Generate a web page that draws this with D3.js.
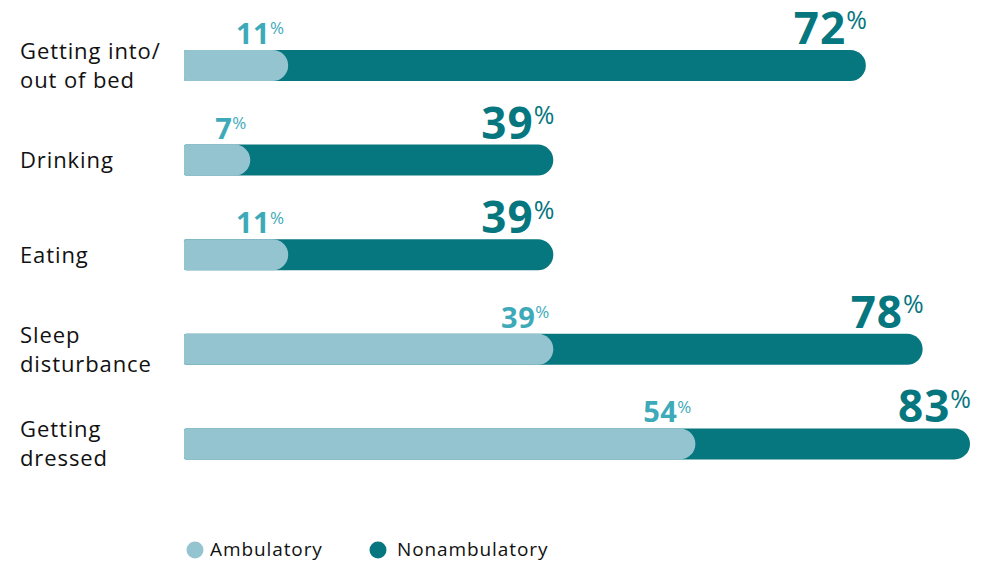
<!DOCTYPE html>
<meta charset="utf-8">
<script src="https://d3js.org/d3.v7.min.js"></script>
<style>
  body { margin: 0; background: #fff; }
  text { font-family: "Open Sans", sans-serif; }
</style>
<div id="chart"></div>
<script>
// data
const categories = [["Getting into/", "out of bed"], ["Drinking"], ["Eating"], ["Sleep", "disturbance"], ["Getting", "dressed"]];
const ambulatory = [11, 7, 11, 39, 54];
const nonambulatory = [72, 39, 39, 78, 83];
const seriesNames = ["Ambulatory", "Nonambulatory"];

const width = 988, height = 562;
const lightBar = "#95c4d1", darkBar = "#06767f";
const lightText = "#3eaab9", darkText = "#06767f";

const svg = d3.select("#chart").append("svg")
    .attr("width", width)
    .attr("height", height);

const keys = categories.map(c => c.join(" "));

const x = d3.scaleLinear().domain([0, 83]).range([184, 970]);
const y = d3.scaleBand().domain(keys).range([18.2, 491.2])
    .paddingInner(0.672).paddingOuter(0.336);

// bar with small left corners and a round right end
function barPath(x0, x1, y0, h) {
    const r = h / 2, rl = 2;
    return "M" + (x0 + rl) + "," + y0 +
        "H" + (x1 - r) +
        "A" + r + "," + r + " 0 0 1 " + (x1 - r) + "," + (y0 + h) +
        "H" + (x0 + rl) +
        "Q" + x0 + "," + (y0 + h) + " " + x0 + "," + (y0 + h - rl) +
        "V" + (y0 + rl) +
        "Q" + x0 + "," + y0 + " " + (x0 + rl) + "," + y0 + "Z";
}

const rows = svg.selectAll("g.row")
    .data(keys)
    .enter().append("g")
    .attr("class", "row");

rows.append("path")
    .attr("d", (d, i) => barPath(x(0), x(nonambulatory[i]), y(d), y.bandwidth()))
    .attr("fill", darkBar);

rows.append("path")
    .attr("d", (d, i) => barPath(x(0), x(ambulatory[i]), y(d), y.bandwidth()))
    .attr("fill", lightBar);

// category labels
rows.each(function(d, i) {
    const lines = categories[i];
    const cy = y(d) + y.bandwidth() / 2;
    const lh = 29;
    const t = d3.select(this).append("text")
        .attr("x", 20)
        .attr("font-size", 22)
        .attr("font-weight", 500)
        .attr("letter-spacing", 0.9)
        .attr("fill", "#111");
    lines.forEach((ln, j) => {
        t.append("tspan")
            .attr("x", 20)
            .attr("y", cy + 8 + (j - (lines.length - 1) / 2) * lh)
            .text(ln);
    });
});

// value labels
function valueLabel(sel, vals, color, big, small, dx) {
    const t = sel.append("text")
        .attr("text-anchor", "end")
        .attr("x", (d, i) => x(vals[i]) + dx)
        .attr("y", d => y(d) - 6)
        .attr("fill", color)
        .attr("font-weight", 700);
    t.append("tspan")
        .attr("font-size", big)
        .attr("letter-spacing", big > 35 ? 1 : 0.5)
        .text((d, i) => vals[i]);
    t.append("tspan")
        .attr("font-size", small)
        .attr("font-weight", 400)
        .attr("dy", -big * 0.33)
        .text("%");
}
valueLabel(rows, nonambulatory, darkText, 44, 25, 1);
valueLabel(rows, ambulatory, lightText, 29, 17, -4);

// legend
const legend = svg.append("g");
const legendX = [195, 378];
const legendTextX = [210, 397];
const legendColors = [lightBar, darkBar];
seriesNames.forEach((name, i) => {
    legend.append("circle")
        .attr("cx", legendX[i])
        .attr("cy", 550)
        .attr("r", 8.5)
        .attr("fill", legendColors[i]);
    legend.append("text")
        .attr("x", legendTextX[i])
        .attr("y", 556)
        .attr("font-size", 19)
        .attr("letter-spacing", 0.9)
        .attr("fill", "#111")
        .text(name);
});
</script>
